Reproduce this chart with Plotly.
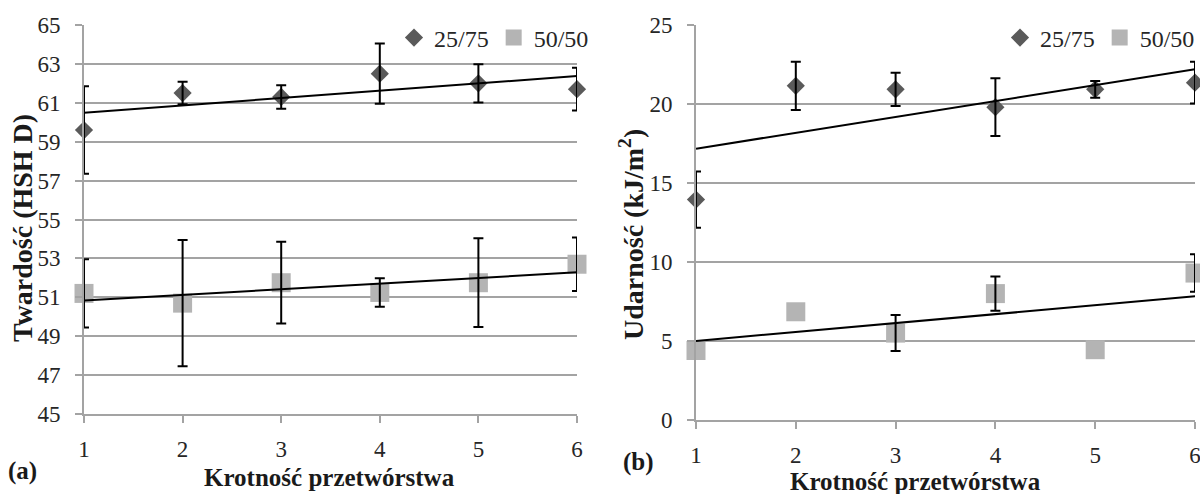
import numpy as np
import plotly.graph_objects as go

# ---- data ----
krotnosc = [1, 2, 3, 4, 5, 6]
series_names = ["25/75", "50/50"]

# (a) Twardość (HSH D)
tw_2575 = [59.6, 61.5, 61.3, 62.5, 62.0, 61.7]
tw_2575_err = [2.25, 0.58, 0.6, 1.55, 0.98, 1.1]
tw_5050 = [51.2, 50.7, 51.75, 51.25, 51.75, 52.7]
tw_5050_err = [1.75, 3.25, 2.1, 0.73, 2.28, 1.37]

# (b) Udarność (kJ/m2)
ud_2575 = [13.95, 21.15, 20.93, 19.8, 20.93, 21.35]
ud_2575_err = [1.78, 1.53, 1.05, 1.83, 0.53, 1.32]
ud_5050 = [4.4, 6.85, 5.5, 8.0, 4.45, 9.3]
ud_5050_err = [None, None, 1.14, 1.08, None, 1.19]

x_ticks = [1, 2, 3, 4, 5, 6]
tw_ticks = [45, 47, 49, 51, 53, 55, 57, 59, 61, 63, 65]
ud_ticks = [0, 5, 10, 15, 20, 25]

FONT = "Liberation Serif, Times New Roman, serif"
DARK = "#5a5a5a"
LIGHT = "#b4b4b4"
GRID = "#a3a3a3"
TXT = "#262626"

W, H = 1200, 494


def px(x):
    return x / W


def py(y):
    return 1 - y / H


fig = go.Figure()


def add_series(xa, ya, x, y, name, symbol, color, size, legend):
    fig.add_trace(go.Scatter(
        x=x, y=y, mode="markers", name=name, xaxis=xa, yaxis=ya,
        marker=dict(symbol=symbol, color=color, size=size, line=dict(width=0)),
        cliponaxis=False, showlegend=True, legend=legend, hoverinfo="x+y"))


def add_err(xa, ya, x, y, err):
    idx = [i for i, e in enumerate(err) if e is not None]
    fig.add_trace(go.Scatter(
        x=[x[i] for i in idx], y=[y[i] for i in idx], mode="markers",
        xaxis=xa, yaxis=ya,
        marker=dict(size=1, opacity=0),
        error_y=dict(type="data", array=[err[i] for i in idx], visible=True,
                     color="black", thickness=2, width=5),
        cliponaxis=True, showlegend=False, hoverinfo="skip"))


def add_trend(xa, ya, x, y):
    k, b = np.polyfit(np.array(x, float), np.array(y, float), 1)
    xs = [min(x), max(x)]
    fig.add_trace(go.Scatter(
        x=xs, y=[k * v + b for v in xs], mode="lines", xaxis=xa, yaxis=ya,
        line=dict(color="black", width=2), showlegend=False,
        hoverinfo="skip", cliponaxis=True))


# panel (a)
add_series("x", "y", krotnosc, tw_2575, series_names[0], "diamond", DARK, 14, "legend")
add_series("x", "y", krotnosc, tw_5050, series_names[1], "square", LIGHT, 19, "legend")
add_err("x", "y", krotnosc, tw_2575, tw_2575_err)
add_err("x", "y", krotnosc, tw_5050, tw_5050_err)
add_trend("x", "y", krotnosc, tw_2575)
add_trend("x", "y", krotnosc, tw_5050)

# panel (b)
add_series("x2", "y2", krotnosc, ud_2575, series_names[0], "diamond", DARK, 14, "legend2")
add_series("x2", "y2", krotnosc, ud_5050, series_names[1], "square", LIGHT, 19, "legend2")
add_err("x2", "y2", krotnosc, ud_2575, ud_2575_err)
add_err("x2", "y2", krotnosc, ud_5050, ud_5050_err)
add_trend("x2", "y2", krotnosc, ud_2575)
add_trend("x2", "y2", krotnosc, ud_5050)

tickfont = dict(family=FONT, size=23, color=TXT)
xcommon = dict(range=[1, 6], tickvals=x_ticks, showgrid=False, zeroline=False,
               showline=True, linecolor=GRID, linewidth=2, ticks="outside",
               ticklen=7, tickwidth=2, tickcolor=GRID, tickfont=tickfont,
               ticklabelstandoff=6, ticklabeloverflow="allow")
ycommon = dict(showgrid=True, gridcolor=GRID, gridwidth=2, zeroline=False,
               showline=True, linecolor=GRID, linewidth=2, ticks="outside",
               ticklen=7, tickwidth=2, tickcolor=GRID, tickfont=tickfont,
               ticklabelstandoff=10, ticklabeloverflow="allow")

legend_common = dict(orientation="h", font=dict(family=FONT, size=24, color=TXT),
                     bgcolor="rgba(0,0,0,0)", yanchor="middle", xanchor="left",
                     itemwidth=30, tracegroupgap=0)

fig.update_layout(
    width=W, height=H,
    margin=dict(l=0, r=0, t=0, b=0, autoexpand=False),
    paper_bgcolor="white", plot_bgcolor="white",
    font=dict(family=FONT, color=TXT),
    xaxis=dict(domain=[px(84), px(577)], anchor="y", **xcommon),
    yaxis=dict(domain=[py(414), py(25)], anchor="x", range=[45, 65], tickvals=tw_ticks, **ycommon),
    xaxis2=dict(domain=[px(696), px(1195)], anchor="y2", **xcommon),
    yaxis2=dict(domain=[py(420), py(25)], anchor="x2", range=[0, 25], tickvals=ud_ticks, **ycommon),
    legend=dict(x=px(394), y=py(38), **legend_common),
    legend2=dict(x=px(1000), y=py(38), **legend_common),
    showlegend=True,
)

ann_font_title = dict(family=FONT, size=25, color="#1a1a1a")
ann_font_ytitle = dict(family=FONT, size=28, color="#1a1a1a")
annotations = [
    dict(text="<b>Twardość (HSH D)</b>", x=px(22), y=py(228), textangle=-90, font=ann_font_ytitle),
    dict(text="<b>Udarność (kJ/m<sup>2</sup>)</b>", x=px(631), y=py(235), textangle=-90, font=ann_font_ytitle),
    dict(text="<b>Krotność przetwórstwa</b>", x=px(329), y=py(477), font=ann_font_title),
    dict(text="<b>Krotność przetwórstwa</b>", x=px(915), y=py(481), font=ann_font_title),
    dict(text="<b>(a)</b>", x=px(22), y=py(471), font=ann_font_title),
    dict(text="<b>(b)</b>", x=px(638), y=py(462), font=ann_font_title),
]
for a in annotations:
    a.update(xref="paper", yref="paper", showarrow=False, xanchor="center", yanchor="middle")
fig.update_layout(annotations=annotations)

fig.write_html("out.html")
